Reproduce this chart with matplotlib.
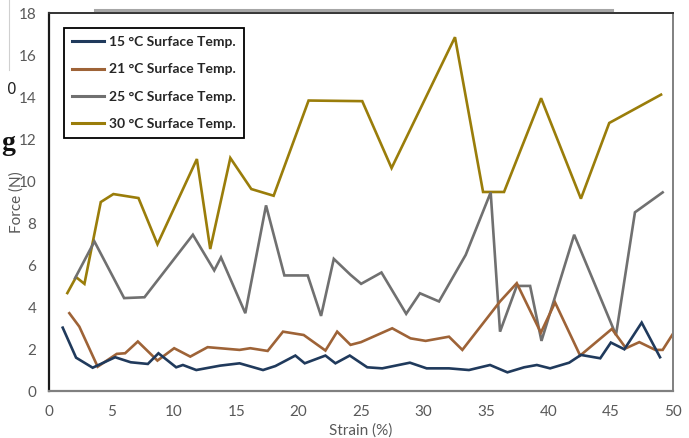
import matplotlib
matplotlib.use("Agg")
import matplotlib.pyplot as plt
from matplotlib.lines import Line2D

plt.rcParams['font.family'] = ['Lato', 'DejaVu Sans']

# Force vs strain for four surface temperatures
strain_15 = [1.1, 2.17, 3.5, 5.3, 6.55, 7.92, 8.77, 10.19, 10.73, 11.8, 13.72, 15.27, 17.15,
             18.14, 19.74, 20.49, 22.15, 22.95, 24.1, 25.5, 26.7, 28.92, 30.26, 32.05, 33.65,
             35.34, 36.73, 38.07, 39.09, 40.15, 41.68, 42.62, 44.17, 45.02, 46.1, 47.49, 48.96]
force_15 = [3.02, 1.59, 1.11, 1.61, 1.37, 1.29, 1.8, 1.13, 1.24, 1.0, 1.21, 1.32, 1.0,
            1.19, 1.69, 1.32, 1.69, 1.32, 1.69, 1.13, 1.08, 1.35, 1.08, 1.08, 1.0,
            1.24, 0.89, 1.13, 1.24, 1.08, 1.35, 1.72, 1.56, 2.31, 1.99, 3.26, 1.61]

strain_21 = [1.63, 2.43, 3.9, 5.43, 6.1, 7.12, 8.69, 10.03, 11.32, 12.71, 15.27, 16.13, 17.52,
             18.75, 20.41, 22.15, 23.09, 24.16, 25.0, 27.5, 28.97, 30.18, 32.05, 33.12, 36.14,
             37.48, 39.41, 40.55, 42.56, 45.1, 46.23, 47.3, 48.58, 49.17, 50.05]
force_21 = [3.71, 3.07, 1.16, 1.77, 1.8, 2.36, 1.45, 2.04, 1.64, 2.09, 1.96, 2.04, 1.91,
            2.83, 2.67, 1.93, 2.83, 2.2, 2.33, 2.99, 2.51, 2.39, 2.59, 1.96, 4.27,
            5.14, 2.78, 4.22, 1.69, 2.96, 2.04, 2.33, 1.96, 1.96, 2.78]

strain_25 = [2.09, 3.64, 6.02, 7.65, 11.53, 13.24, 13.78, 15.73, 17.39, 18.86, 20.73, 21.8, 22.82,
             24.16, 25.01, 26.64, 28.62, 29.72, 31.25, 33.39, 35.39, 36.14, 37.48, 38.55, 39.46,
             42.08, 45.43, 46.95, 49.17]
force_25 = [5.38, 7.13, 4.43, 4.47, 7.45, 5.75, 6.37, 3.71, 8.85, 5.51, 5.51, 3.58, 6.3,
            5.54, 5.11, 5.65, 3.68, 4.66, 4.27, 6.49, 9.47, 2.83, 5.01, 5.01, 2.39,
            7.45, 2.67, 8.52, 9.47]

strain_30 = [1.47, 2.17, 2.84, 4.15, 5.16, 7.17, 8.69, 11.85, 12.92, 14.53, 16.21, 18.0, 20.8,
             25.1, 27.45, 32.53, 34.78, 36.46, 39.43, 42.62, 44.89, 49.04]
force_30 = [4.67, 5.43, 5.11, 9.01, 9.39, 9.2, 7.0, 11.06, 6.77, 11.11, 9.63, 9.31, 13.85,
            13.82, 10.63, 16.87, 9.49, 9.49, 13.96, 9.17, 12.78, 14.13]

labels = ["15 °C Surface Temp.", "21 °C Surface Temp.", "25 °C Surface Temp.", "30 °C Surface Temp."]
colors = ["#203a5c", "#9e6337", "#707070", "#9a7d0a"]
x_ticks = [0, 5, 10, 15, 20, 25, 30, 35, 40, 45, 50]
y_ticks = [0, 2, 4, 6, 8, 10, 12, 14, 16, 18]

fig = plt.figure(figsize=(6.89, 4.38), dpi=100)
ax = fig.add_axes([0.0711, 0.1073, 0.9057, 0.8619])

series = [(strain_15, force_15), (strain_21, force_21), (strain_25, force_25), (strain_30, force_30)]
for (xs, ys), c, lab in zip(series[::-1], colors[::-1], labels[::-1]):
    ax.plot(xs, ys, color=c, lw=1.9, label=lab, solid_joinstyle='miter')

ax.set_xlim(0, 50)
ax.set_ylim(0, 18)
ax.set_xticks(x_ticks)
ax.set_yticks(y_ticks)
ax.tick_params(length=0, labelsize=11, labelcolor="#595959")
ax.tick_params(axis='x', pad=10)
ax.tick_params(axis='y', pad=9)

for side, col, w in [("left", "#1a1a1a", 1.6), ("top", "#333333", 1.4),
                     ("right", "#808080", 1.4), ("bottom", "#808080", 1.6)]:
    ax.spines[side].set_color(col)
    ax.spines[side].set_linewidth(w)

ax.set_xlabel("Strain (%)", fontsize=11, color="#595959")
ax.xaxis.set_label_coords(0.5, -0.087)
ax.set_ylabel("Force (N)", fontsize=11, color="#595959")
ax.yaxis.set_label_coords(-0.04, 0.5)

handles = [Line2D([0], [0], color=c, lw=2.2) for c in colors]
leg = ax.legend(handles, labels, loc="upper left", bbox_to_anchor=(0.024, 0.962),
                frameon=True, fancybox=False, framealpha=1, edgecolor="black",
                prop={'size': 10, 'weight': 'bold'}, labelspacing=1.1,
                handlelength=2.3, handletextpad=0.35, borderpad=0.6, borderaxespad=0)
leg.get_frame().set_linewidth(1.3)
for t in leg.get_texts():
    t.set_color("#262626")

# strip and fragments around the chart area
fig.add_artist(Line2D([95 / 689, 612 / 689], [1 - 9.5 / 438, 1 - 9.5 / 438],
                      color="#a6a6a6", lw=2.2, transform=fig.transFigure))
fig.add_artist(Line2D([8.5 / 689, 8.5 / 689], [1.0, 1 - 70 / 438],
                      color="#d0d0d0", lw=0.8, transform=fig.transFigure))
fig.text(12 / 689, 1 - 90 / 438, "0", fontsize=11, color="#222222",
         ha="center", va="center", family="DejaVu Sans")
fig.text(8 / 689, 1 - 143 / 438, "g", fontsize=20, color="#111111", weight="bold",
         ha="center", va="center", family="Liberation Serif")

fig.savefig("out.png", dpi=100)
